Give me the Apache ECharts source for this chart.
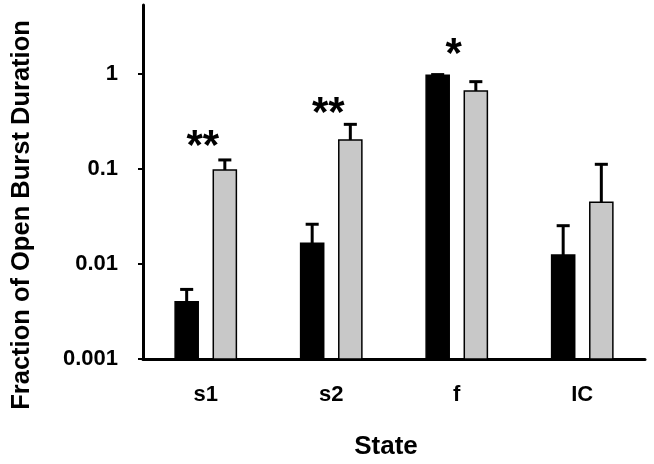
<!DOCTYPE html>
<html>
<head>
<meta charset="utf-8">
<script src="https://cdn.jsdelivr.net/npm/echarts@6/dist/echarts.min.js"></script>
<style>html,body{margin:0;padding:0;background:#fff;}#c{width:654px;height:464px;}</style>
</head>
<body>
<div id="c"></div>
<script>
const categories = ['s1', 's2', 'f', 'IC'];
const blackValues = [0.0040, 0.0165, 0.97, 0.0124];
const blackUpper = [0.0054, 0.0262, 0.985, 0.0253];
const grayValues = [0.0975, 0.202, 0.662, 0.0446];
const grayUpper = [0.1245, 0.295, 0.83, 0.112];
const sigLabels = ['**', '**', '*', ''];
const sigValues = [0.167, 0.371, 1.585, 0.5];
const yTicks = [0.001, 0.01, 0.1, 1];
const yMin = 0.001;
const yMax = 5.32;

const FONT = 'Arial, "Liberation Sans", sans-serif';

function barRenderer(offsetFrac, fill) {
  return function (params, api) {
    const i = api.value(0), v = api.value(1), up = api.value(2);
    const top = api.coord([i, v]);
    const base = api.coord([i, yMin]);
    const upP = api.coord([i, up]);
    const cw = api.coord([1, v])[0] - api.coord([0, v])[0];
    const w = cw * 0.184;
    const cx = top[0] + cw * offsetFrac;
    const capW = cw * 0.104;
    return {
      type: 'group',
      children: [
        { type: 'line', shape: { x1: cx, y1: top[1], x2: cx, y2: upP[1] }, style: { stroke: '#000', lineWidth: 3 } },
        { type: 'line', shape: { x1: cx - capW / 2, y1: upP[1], x2: cx + capW / 2, y2: upP[1] }, style: { stroke: '#000', lineWidth: 3 } },
        { type: 'rect', shape: { x: cx - w / 2, y: top[1], width: w, height: base[1] - top[1] }, style: { fill: fill, stroke: '#000', lineWidth: 1.5 } }
      ]
    };
  };
}

function sigRenderer(params, api) {
  const i = api.value(0), v = api.value(1);
  const p = api.coord([i, v]);
  return {
    type: 'text',
    style: { x: p[0] - 3, y: p[1], text: sigLabels[i], fill: '#000', font: 'bold 42px ' + FONT, align: 'center', verticalAlign: 'middle' }
  };
}

const chart = echarts.init(document.getElementById('c'), null, { renderer: 'canvas' });
chart.setOption({
  animation: false,
  backgroundColor: '#fff',
  grid: { left: 143, right: 9, top: 5, bottom: 105, containLabel: false },
  xAxis: {
    type: 'category',
    data: categories,
    axisLine: { lineStyle: { color: '#000', width: 3 } },
    axisTick: { alignWithLabel: true, length: 5, lineStyle: { color: '#000', width: 2 } },
    axisLabel: { color: '#000', fontWeight: 'bold', fontSize: 22, fontFamily: FONT, margin: 25 },
    splitLine: { show: false }
  },
  yAxis: {
    type: 'log',
    logBase: 10,
    min: yMin,
    max: yMax,
    axisLine: { show: true, lineStyle: { color: '#000', width: 3 } },
    axisTick: { show: true, length: 5, customValues: yTicks, lineStyle: { color: '#000', width: 2 } },
    axisLabel: {
      color: '#000', fontWeight: 'bold', fontSize: 22, fontFamily: FONT, margin: 25,
      customValues: yTicks,
      formatter: function (v) {
        const e = Math.round(Math.log10(v));
        return e >= 0 ? String(Math.pow(10, e)) : Math.pow(10, e).toFixed(-e);
      }
    },
    splitLine: { show: false },
    minorTick: { show: false }
  },
  graphic: [
    { type: 'text', x: 22, y: 215, rotation: Math.PI / 2, style: { text: 'Fraction of Open Burst Duration', font: 'bold 25.5px ' + FONT, fill: '#000', align: 'center', verticalAlign: 'middle' } },
    { type: 'text', x: 386, y: 447, style: { text: 'State', font: 'bold 26px ' + FONT, fill: '#000', align: 'center', verticalAlign: 'middle' } }
  ],
  series: [
    { type: 'custom', renderItem: barRenderer(-0.152, '#000000'), data: categories.map((c, i) => [i, blackValues[i], blackUpper[i]]), encode: { x: 0, y: 1 }, clip: false },
    { type: 'custom', renderItem: barRenderer(0.152, '#c8c8c8'), data: categories.map((c, i) => [i, grayValues[i], grayUpper[i]]), encode: { x: 0, y: 1 }, clip: false },
    { type: 'custom', renderItem: sigRenderer, data: categories.map((c, i) => [i, sigValues[i]]), encode: { x: 0, y: 1 }, clip: false }
  ]
});
</script>
</body>
</html>
